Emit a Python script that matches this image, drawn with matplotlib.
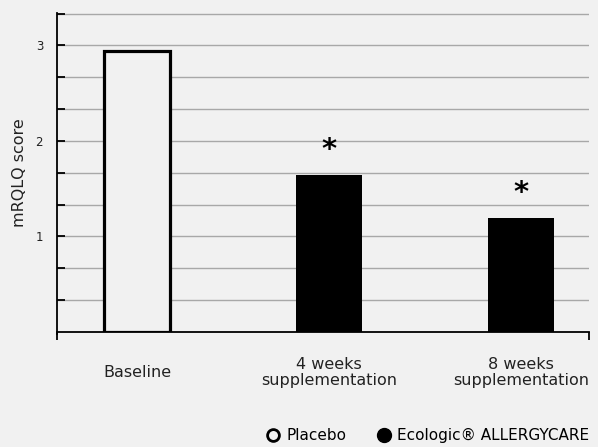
import matplotlib.pyplot as plt
from matplotlib.lines import Line2D
from matplotlib.ticker import FixedLocator

plt.rcParams['font.family'] = ['DejaVu Sans']

# data
categories = ['Baseline', '4 weeks\nsupplementation', '8 weeks\nsupplementation']
scores = [2.94, 1.64, 1.19]
groups = ['Placebo', 'Ecologic', 'Ecologic']
significant = [False, True, True]

bg = '#f1f1f1'
fig = plt.figure(figsize=(5.98, 4.47), dpi=100, facecolor=bg)
ax = fig.add_axes([0.0953, 0.2573, 0.8897, 0.7136], facecolor=bg)

x = list(range(len(categories)))
for xi, val, grp in zip(x, scores, groups):
    if grp == 'Placebo':
        ax.bar(xi, val, width=0.344, color=bg, edgecolor='black', linewidth=2.3, zorder=3)
    else:
        ax.bar(xi, val, width=0.344, color='black', edgecolor='black', linewidth=0, zorder=3)

for xi, val, sig in zip(x, scores, significant):
    if sig:
        ax.annotate('*', (xi, val), xytext=(0, 8), textcoords='offset points',
                    ha='center', va='bottom', fontsize=21, fontweight='bold')

ax.set_xlim(-0.417, 2.354)
ax.set_ylim(0, 3.34)

ax.yaxis.set_major_locator(FixedLocator([1, 2, 3]))
ax.yaxis.set_minor_locator(FixedLocator([i / 3 for i in range(1, 11)]))
ax.set_yticklabels(['1', '2', '3'])
ax.tick_params(axis='y', which='both', direction='in', length=6, width=1.3,
               labelsize=8.5, pad=10, colors='black', labelcolor='#222222')
ax.grid(True, axis='y', which='both', color='#a8a8a8', linewidth=1.0, zorder=0)

ax.xaxis.set_major_locator(FixedLocator([-0.417, 2.354]))
ax.set_xticklabels(['', ''])
ax.tick_params(axis='x', which='major', direction='out', length=6, width=1.3)
ax.set_xticks(x, minor=True)
ax.set_xticklabels(categories, minor=True)
ax.tick_params(axis='x', which='minor', length=0, pad=29, labelsize=11.5, labelcolor='#222222')
for lbl in ax.get_xticklabels(minor=True):
    lbl.set_verticalalignment('center')
    lbl.set_linespacing(1.1)

for side in ['top', 'right']:
    ax.spines[side].set_visible(False)
ax.spines['left'].set_linewidth(1.3)
ax.spines['bottom'].set_linewidth(1.3)
ax.spines['left'].set_bounds(-0.02, 3.34)

ax.set_ylabel('mRQLQ score', fontsize=11.5, labelpad=6, color='#222222')

handles = [
    Line2D([], [], linestyle='none', marker='o', markersize=8.5, markerfacecolor='none',
           markeredgecolor='black', markeredgewidth=2),
    Line2D([], [], linestyle='none', marker='o', markersize=10, markerfacecolor='black',
           markeredgecolor='black'),
]
fig.legend(handles, ['Placebo', 'Ecologic\u00ae ALLERGYCARE'], loc='center',
           bbox_to_anchor=(0.715, 0.025), ncol=2, frameon=False, fontsize=11,
           handletextpad=0.35, columnspacing=2.0, handlelength=1.0)

fig.savefig('out.png', dpi=100, facecolor=bg)
